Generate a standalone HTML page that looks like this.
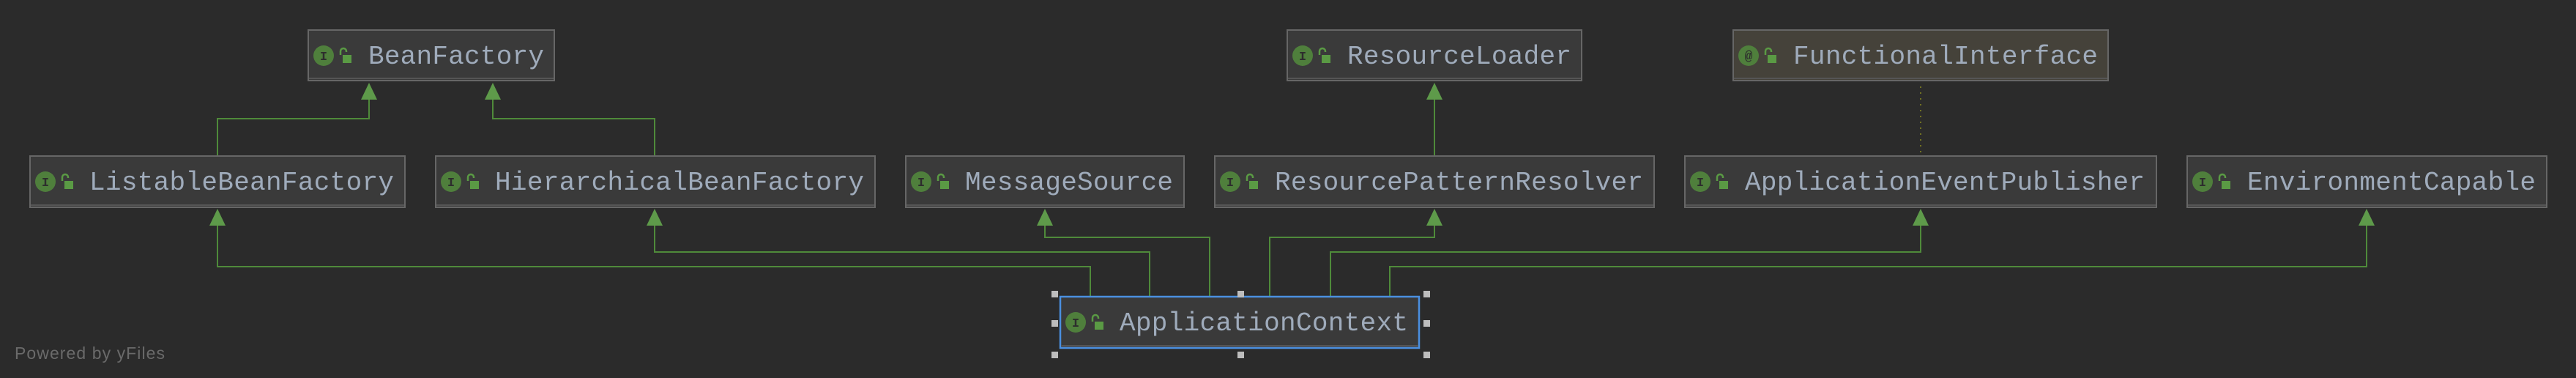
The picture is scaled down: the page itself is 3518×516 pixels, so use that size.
<!DOCTYPE html>
<html><head><meta charset="utf-8"><style>
html,body{margin:0;padding:0;background:#2b2b2b;}
svg{display:block}
.t{font-family:"Liberation Mono",monospace;font-size:36px;fill:#9fabbb;}
</style></head><body>
<svg width="3518" height="516" viewBox="0 0 3518 516" xmlns="http://www.w3.org/2000/svg">
<defs>
<g id="ic">
<circle cx="22" cy="36" r="14" fill="#4f7f3c"/>
<text x="22" y="42" font-family="Liberation Mono,monospace" font-size="17" font-weight="bold" fill="#2d2d2d" text-anchor="middle">I</text>
<path d="M45 35 v-5 a4 4 0 0 1 8 0 v1" stroke="#5a9a44" stroke-width="2.5" fill="none"/>
<rect x="48" y="35" width="12" height="11" fill="#5a9a44"/>
</g>
<g id="ica">
<circle cx="22" cy="36" r="14" fill="#4f7f3c"/>
<text x="22" y="42" font-family="Liberation Mono,monospace" font-size="18" font-weight="bold" fill="#2d2d2d" text-anchor="middle">@</text>
<path d="M45 35 v-5 a4 4 0 0 1 8 0 v1" stroke="#5a9a44" stroke-width="2.5" fill="none"/>
<rect x="48" y="35" width="12" height="11" fill="#5a9a44"/>
</g>
</defs>
<g stroke="#4f8a3a" stroke-width="2" fill="none">
<polyline points="1489,404 1489,364 297,364 297,300"/>
<polyline points="1570,404 1570,344 894,344 894,300"/>
<polyline points="1652,404 1652,324 1427,324 1427,300"/>
<polyline points="1734,404 1734,324 1959,324 1959,300"/>
<polyline points="1817,404 1817,344 2623,344 2623,300"/>
<polyline points="1898,404 1898,364 3232,364 3232,300"/>
<polyline points="297,212 297,162 504,162 504,128"/>
<polyline points="894,212 894,162 673,162 673,128"/>
<polyline points="1959,212 1959,128"/>
</g>
<line x1="2623" y1="118" x2="2623" y2="211" stroke="#8a8a20" stroke-width="1.5" stroke-dasharray="2,6"/>
<g fill="#5e9a4a">
<polygon points="297,285 286,308 308,308"/>
<polygon points="894,285 883,308 905,308"/>
<polygon points="1427,285 1416,308 1438,308"/>
<polygon points="1959,285 1948,308 1970,308"/>
<polygon points="2623,285 2612,308 2634,308"/>
<polygon points="3232,285 3221,308 3243,308"/>
<polygon points="504,113 493,136 515,136"/>
<polygon points="673,113 662,136 684,136"/>
<polygon points="1959,113 1948,136 1970,136"/>
</g>
<!-- boxes -->
<g stroke="#666" stroke-width="2">
<rect x="421" y="41" width="336" height="69" fill="#3a3a3a"/>
<rect x="1758" y="41" width="402" height="69" fill="#3a3a3a"/>
<rect x="2367" y="41" width="512" height="69" fill="#45423a"/>
<rect x="41" y="213" width="512" height="70" fill="#3a3a3a"/>
<rect x="595" y="213" width="600" height="70" fill="#3a3a3a"/>
<rect x="1237" y="213" width="380" height="70" fill="#3a3a3a"/>
<rect x="1659" y="213" width="600" height="70" fill="#3a3a3a"/>
<rect x="2301" y="213" width="644" height="70" fill="#3a3a3a"/>
<rect x="2987" y="213" width="491" height="70" fill="#3a3a3a"/>
</g>
<rect x="1448" y="405" width="490" height="70" fill="#3a3a3a" stroke="#4a8fe0" stroke-width="2.5"/>
<g stroke="#555" stroke-width="2">
<line x1="422" y1="107" x2="756" y2="107"/>
<line x1="1759" y1="107" x2="2159" y2="107"/>
<line x1="2368" y1="107" x2="2878" y2="107"/>
<line x1="42" y1="280" x2="552" y2="280"/>
<line x1="596" y1="280" x2="1194" y2="280"/>
<line x1="1238" y1="280" x2="1616" y2="280"/>
<line x1="1660" y1="280" x2="2258" y2="280"/>
<line x1="2302" y1="280" x2="2944" y2="280"/>
<line x1="2988" y1="280" x2="3477" y2="280"/>
<line x1="1449" y1="472" x2="1937" y2="472"/>
</g>
<use href="#ic" x="420" y="40"/>
<use href="#ic" x="1757" y="40"/>
<use href="#ica" x="2366" y="40"/>
<use href="#ic" x="40" y="212"/>
<use href="#ic" x="594" y="212"/>
<use href="#ic" x="1236" y="212"/>
<use href="#ic" x="1658" y="212"/>
<use href="#ic" x="2300" y="212"/>
<use href="#ic" x="2986" y="212"/>
<use href="#ic" x="1447" y="404"/>
<text class="t" x="503" y="87" textLength="240">BeanFactory</text>
<text class="t" x="1840" y="87" textLength="306">ResourceLoader</text>
<text class="t" x="2449" y="87" textLength="416">FunctionalInterface</text>
<text class="t" x="122" y="259" textLength="416">ListableBeanFactory</text>
<text class="t" x="676" y="259" textLength="504">HierarchicalBeanFactory</text>
<text class="t" x="1318" y="259" textLength="284">MessageSource</text>
<text class="t" x="1741" y="259" textLength="503">ResourcePatternResolver</text>
<text class="t" x="2383" y="259" textLength="546">ApplicationEventPublisher</text>
<text class="t" x="3069" y="259" textLength="394">EnvironmentCapable</text>
<text class="t" x="1529" y="451" textLength="394">ApplicationContext</text>
<g fill="#bdbdbd">
<rect x="1436" y="397" width="9" height="9"/><rect x="1690" y="397" width="9" height="9"/><rect x="1944" y="397" width="9" height="9"/>
<rect x="1436" y="437" width="9" height="9"/><rect x="1944" y="437" width="9" height="9"/>
<rect x="1436" y="480" width="9" height="9"/><rect x="1690" y="480" width="9" height="9"/><rect x="1944" y="480" width="9" height="9"/>
</g>
<text x="20" y="490" font-family="Liberation Sans,sans-serif" font-size="23" fill="#6a6a6a" textLength="205">Powered by yFiles</text>
</svg>
</body></html>
